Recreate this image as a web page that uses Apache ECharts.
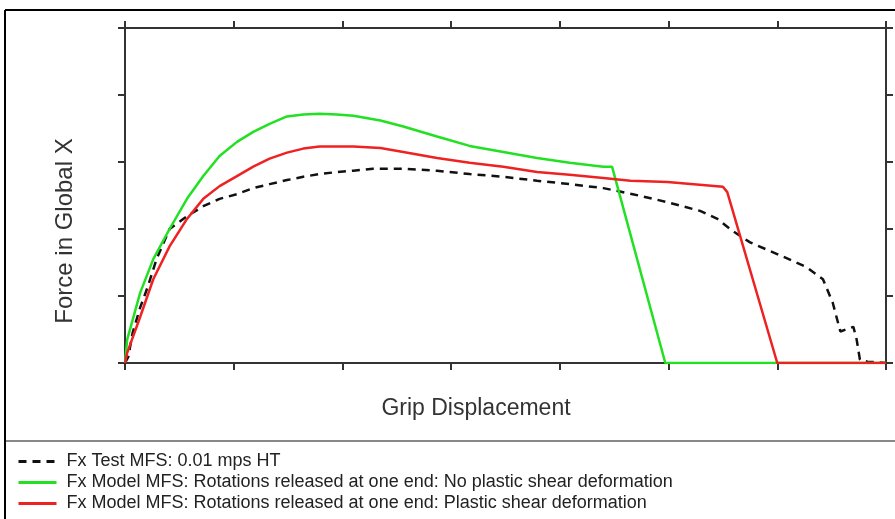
<!DOCTYPE html>
<html lang="en">
<head>
	<meta charset="UTF-8">
	<title>Force vs Grip Displacement</title>
	<style>
	body, div {
		margin: 0;
		padding: 0;
	}
	#echart {
		width: 895px;
		height: 519px;
		background: #fff;
	}
	</style>
</head>
<body>
	<div id="echart"></div>

	<script src="https://cdn.jsdelivr.net/npm/echarts@6/dist/echarts.min.js"></script>

	<script>
	// series names
	var testName = 'Fx Test MFS: 0.01 mps HT';
	var noShearName = 'Fx Model MFS: Rotations released at one end: No plastic shear deformation';
	var shearName = 'Fx Model MFS: Rotations released at one end: Plastic shear deformation';

	// [displacement, force] in tick units
	var testData = [
		[0, 0], [0.03, 0.09], [0.07, 0.45], [0.14, 0.83], [0.21, 1.14], [0.29, 1.55],
		[0.41, 2.0], [0.57, 2.19], [0.72, 2.34], [0.87, 2.45], [1.03, 2.52], [1.18, 2.61],
		[1.33, 2.67], [1.49, 2.73], [1.64, 2.78], [1.79, 2.82], [1.95, 2.85], [2.10, 2.87],
		[2.28, 2.90], [2.56, 2.90], [2.87, 2.87], [3.17, 2.82], [3.48, 2.78], [3.79, 2.72],
		[4.09, 2.67], [4.40, 2.61], [4.67, 2.52], [4.99, 2.40], [5.29, 2.27], [5.45, 2.15],
		[5.59, 1.97], [5.75, 1.80], [6.05, 1.59], [6.27, 1.43], [6.42, 1.25], [6.51, 0.90],
		[6.58, 0.47], [6.70, 0.54], [6.73, 0.35], [6.76, 0.05], [6.83, 0.02], [7, 0]
	];
	var noShearData = [
		[0, 0], [0.02, 0.35], [0.14, 1.05], [0.26, 1.55], [0.41, 2.0], [0.57, 2.45],
		[0.72, 2.79], [0.87, 3.09], [1.03, 3.30], [1.18, 3.45], [1.33, 3.57], [1.49, 3.68],
		[1.64, 3.71], [1.79, 3.72], [1.95, 3.71], [2.10, 3.69], [2.35, 3.62], [2.56, 3.53],
		[2.87, 3.38], [3.17, 3.24], [3.48, 3.15], [3.79, 3.06], [4.09, 2.99], [4.40, 2.93],
		[4.48, 2.93], [4.97, 0], [7, 0]
	];
	var shearData = [
		[0, 0], [0.02, 0.15], [0.14, 0.69], [0.26, 1.25], [0.41, 1.74], [0.57, 2.15],
		[0.72, 2.45], [0.87, 2.64], [1.03, 2.79], [1.18, 2.93], [1.33, 3.05], [1.49, 3.14],
		[1.64, 3.20], [1.79, 3.23], [1.95, 3.23], [2.10, 3.23], [2.35, 3.21], [2.56, 3.15],
		[2.87, 3.06], [3.17, 2.99], [3.48, 2.93], [3.79, 2.85], [4.09, 2.81], [4.40, 2.76],
		[4.65, 2.72], [4.99, 2.70], [5.50, 2.63], [5.54, 2.55], [6.0, 0], [7, 0]
	];

	var xMax = 7;
	var yMax = 5;

	function getForceChart(id) {
		var myEchart = echarts.init(document.getElementById(id));
		var axisColor = '#333';
		// shared axis look: line + outward ticks, no labels
		function axisStyle(pos, max) {
			return {
				type: 'value',
				position: pos,
				min: 0,
				max: max,
				interval: 1,
				axisLine: { show: true, onZero: false, lineStyle: { color: axisColor, width: 2 } },
				axisTick: { show: true, length: 7, lineStyle: { color: axisColor, width: 2 } },
				axisLabel: { show: false },
				splitLine: { show: false }
			};
		}

		var font = 'Liberation Sans, Arial, sans-serif';

		var option = {
			animation: false,
			grid: { left: 125, right: 9, top: 28, bottom: 156 },
			xAxis: [axisStyle('bottom', xMax), axisStyle('top', xMax)],
			yAxis: [axisStyle('left', yMax), axisStyle('right', yMax)],
			legend: {
				orient: 'vertical',
				left: 17,
				top: 451,
				padding: 0,
				itemWidth: 38,
				itemHeight: 14,
				itemGap: 0,
				itemStyle: { opacity: 0 },
				lineStyle: { width: 3 },
				textStyle: { fontFamily: font, fontSize: 18, lineHeight: 21, color: '#222', padding: [0, 0, 0, 5] },
				data: [testName, noShearName, shearName]
			},
			graphic: [
				// outer frame (top and left edges)
				{ type: 'line', shape: { x1: 5, y1: 10, x2: 895, y2: 10 }, style: { stroke: '#000', lineWidth: 2 } },
				{ type: 'line', shape: { x1: 5, y1: 10, x2: 5, y2: 519 }, style: { stroke: '#000', lineWidth: 2 } },
				// separator above the legend
				{ type: 'line', shape: { x1: 6, y1: 441, x2: 895, y2: 441 }, style: { stroke: '#888', lineWidth: 2 } },
				{
					type: 'text', x: 476, y: 409,
					style: { text: 'Grip Displacement', font: '23px ' + font, fill: '#333', align: 'center', verticalAlign: 'middle' }
				},
				{
					type: 'text', x: 65, y: 231, rotation: Math.PI / 2,
					style: { text: 'Force in Global X', font: '24px ' + font, fill: '#333', align: 'center', verticalAlign: 'middle' }
				}
			],
			series: [
				{
					name: testName, type: 'line', data: testData, symbol: 'none',
					lineStyle: { color: '#111', width: 2.5, type: [8, 6] },
					itemStyle: { color: '#111' }
				},
				{
					name: noShearName, type: 'line', data: noShearData, symbol: 'none',
					lineStyle: { color: '#22e022', width: 2.5 },
					itemStyle: { color: '#22e022' }
				},
				{
					name: shearName, type: 'line', data: shearData, symbol: 'none',
					lineStyle: { color: '#ee2222', width: 2.5 },
					itemStyle: { color: '#ee2222' }
				}
			]
		};

		myEchart.setOption(option);
	}

	getForceChart('echart');
	</script>
</body>
</html>
